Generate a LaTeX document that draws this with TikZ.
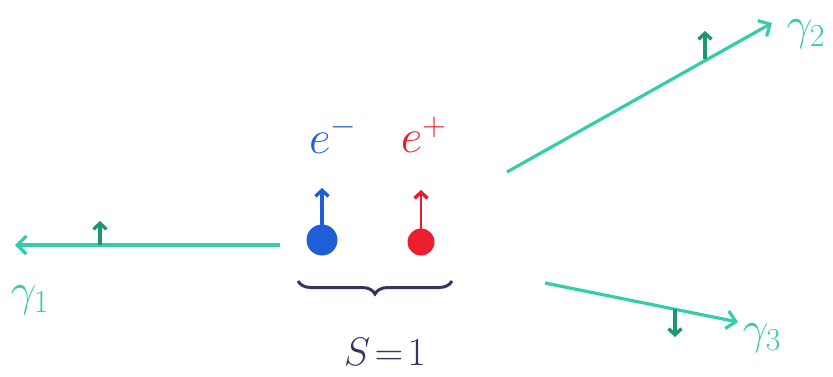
\documentclass[tikz,border=0pt]{standalone}
\usetikzlibrary{arrows.meta,decorations.pathreplacing}
\definecolor{photon}{RGB}{52,204,170}
\definecolor{spinc}{RGB}{30,150,115}
\definecolor{elec}{RGB}{30,95,215}
\definecolor{posi}{RGB}{235,30,45}
\definecolor{ink}{RGB}{55,50,95}
\tikzset{
  photonline/.style={draw=photon, line width=3.2pt, -{Straight Barb[length=9pt,width=18pt,line width=3.2pt]}},
  spinarrow/.style={line width=3.4pt, -{Straight Barb[length=6pt,width=13pt,line width=3.4pt]}},
  lbl/.style={text=photon, font=\Huge, scale=1.85},
  partlbl/.style={font=\Huge, scale=1.9},
}
\begin{document}
\begin{tikzpicture}[x=1pt,y=-1pt]
\useasboundingbox (0,0) rectangle (833,377);
% photon 1
\coordinate (g1s) at (280,245);
\coordinate (g1e) at (15,245);
\draw[photonline] (g1s) -- (g1e);
\coordinate (s1a) at (100,245);
\coordinate (s1b) at (100,221);
\draw[spinarrow, draw=spinc] (s1a) -- (s1b);
\node[lbl] (l1) at (30,300) {$\gamma_{\scriptscriptstyle 1}$};
% photon 2
\coordinate (g2s) at (507,172);
\coordinate (g2e) at (772,23);
\draw[photonline] (g2s) -- (g2e);
\coordinate (s2a) at (705,59);
\coordinate (s2b) at (705,31);
\draw[spinarrow, draw=spinc] (s2a) -- (s2b);
\node[lbl] (l2) at (806,34) {$\gamma_{\scriptscriptstyle 2}$};
% photon 3
\coordinate (g3s) at (545,283);
\coordinate (g3e) at (738,322);
\draw[photonline] (g3s) -- (g3e);
\coordinate (s3a) at (675,309);
\coordinate (s3b) at (675,337);
\draw[spinarrow, draw=spinc] (s3a) -- (s3b);
\node[lbl] (l3) at (762,338) {$\gamma_{\scriptscriptstyle 3}$};
% electron
\node[circle, fill=elec, minimum size=31pt, inner sep=0pt] (em) at (322,240) {};
\coordinate (ema) at (322,226);
\coordinate (emb) at (322,188);
\draw[spinarrow, draw=elec] (ema) -- (emb);
\node[partlbl, text=elec] (emt) at (333,135) {$e^{\scriptscriptstyle -}$};
% positron
\node[circle, fill=posi, minimum size=27pt, inner sep=0pt] (ep) at (421,242) {};
\coordinate (epa) at (421,230);
\coordinate (epb) at (421,190);
\draw[spinarrow, draw=posi, line width=2.6pt] (epa) -- (epb);
\node[partlbl, text=posi] (ept) at (424,135) {$e^{\scriptscriptstyle +}$};
% brace
\coordinate (bl) at (298,281);
\coordinate (br) at (452,281);
\draw[ink, line width=3pt, decorate, decoration={brace, amplitude=13pt, mirror}] (bl) -- (br);
\node[text=ink, font=\Huge, scale=1.6] (spin) at (385,352) {$S\!=\!1$};
\end{tikzpicture}
\end{document}
